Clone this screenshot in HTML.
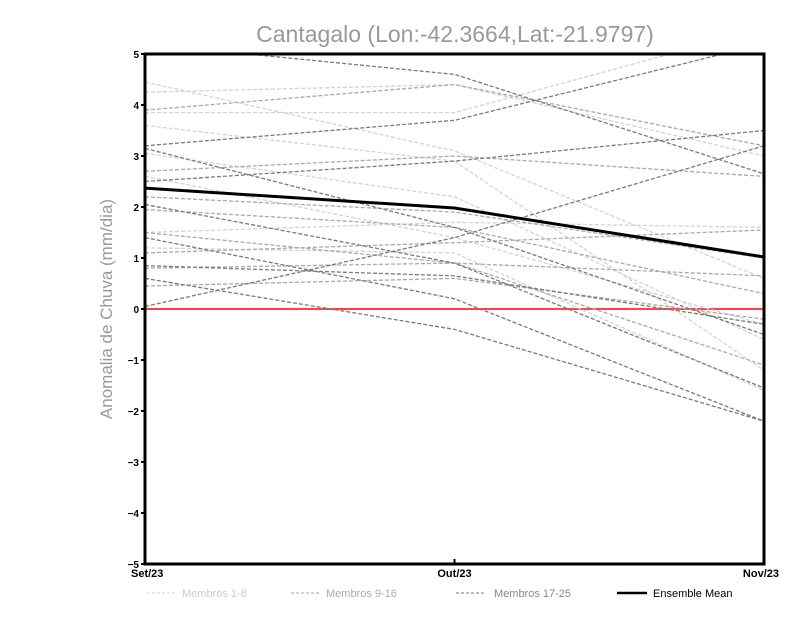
<!DOCTYPE html>
<html><head><meta charset="utf-8"><style>
body{margin:0;background:#fff;}
svg{display:block;font-family:"Liberation Sans",sans-serif;}
</style></head><body>
<svg id="chart" width="800" height="618">
<text x="455" y="42" text-anchor="middle" font-size="23" fill="#999">Cantagalo (Lon:-42.3664,Lat:-21.9797)</text>
<text transform="translate(112,309) rotate(-90)" text-anchor="middle" font-size="17" fill="#999">Anomalia de Chuva (mm/dia)</text>
<g id="marks"></g>
<g id="axes"></g>
<g id="legend">
<line x1="147" y1="593" x2="177" y2="593" stroke="#d4d4d4" stroke-dasharray="3,2"/>
<text x="182" y="597" font-size="11" fill="#ccc">Membros 1-8</text>
<line x1="291" y1="593" x2="320" y2="593" stroke="#aaa" stroke-dasharray="3,2"/>
<text x="326" y="597" font-size="11" fill="#aaa">Membros 9-16</text>
<line x1="456" y1="593" x2="486" y2="593" stroke="#777" stroke-dasharray="3,2"/>
<text x="494" y="597" font-size="11" fill="#888">Membros 17-25</text>
<line x1="617" y1="593" x2="647" y2="593" stroke="#000" stroke-width="2.5"/>
<text x="653" y="597" font-size="11" fill="#000">Ensemble Mean</text>
</g>
</svg>
<script>
const categories=["Set/23","Out/23","Nov/23"];
const yTicks=[5,4,3,2,1,0,-1,-2,-3,-4,-5];
const group1=[[4.45,3.1,0.6],[4.25,4.4,3.0],[3.85,3.85,5.5],[3.6,2.9,-1.2],[3.05,2.2,-0.6],[1.5,1.7,1.6],[1.2,1.1,-1.6],[2.6,1.4,-0.3]];
const group2=[[3.9,4.4,3.2],[2.7,3.0,2.6],[2.2,1.9,1.0],[1.95,1.6,0.3],[1.5,0.9,-1.1],[0.8,0.9,0.65],[0.45,0.6,-0.2],[1.1,1.3,1.55]];
const group3=[[5.2,4.6,2.65],[3.2,3.7,5.2],[2.5,2.9,3.5],[3.15,1.6,-0.5],[2.05,0.9,-1.55],[1.4,0.2,-2.2],[0.85,0.65,-0.3],[0.05,1.4,3.2],[0.6,-0.4,-2.2]];
const ensembleMean=[2.37,1.98,1.02];
const X0=145,X1=764,Y0=54,Y1=564,YMAX=5,YMIN=-5;
function xs(i){return X0+(X1-X0)*i/(categories.length-1);}
function ys(v){return Y0+(YMAX-v)*(Y1-Y0)/(YMAX-YMIN);}
const NS="http://www.w3.org/2000/svg";
const marks=document.getElementById('marks');
const axes=document.getElementById('axes');
const cp=document.createElementNS(NS,'clipPath');cp.id='clip';
const cr=document.createElementNS(NS,'rect');cr.setAttribute('x',X0);cr.setAttribute('y',Y0);cr.setAttribute('width',X1-X0);cr.setAttribute('height',Y1-Y0);
cp.appendChild(cr);marks.appendChild(cp);
marks.setAttribute('clip-path','url(#clip)');
function pts(a){return a.map((v,i)=>xs(i)+','+ys(v)).join(' ');}
const zero=document.createElementNS(NS,'line');
zero.setAttribute('x1',X0);zero.setAttribute('x2',X1);zero.setAttribute('y1',ys(0));zero.setAttribute('y2',ys(0));
zero.setAttribute('stroke','#f44');zero.setAttribute('stroke-width','2');


marks.appendChild(zero);
[[group1,'#d4d4d4','membros-1-8'],[group2,'#aaaaaa','membros-9-16'],[group3,'#7a7a7a','membros-17-25']].forEach(([g,c,n])=>{
 g.forEach((m,k)=>{
  const p=document.createElementNS(NS,'polyline');
  p.setAttribute('points',pts(m));p.setAttribute('fill','none');p.setAttribute('stroke',c);
  p.setAttribute('stroke-width','1.3');p.setAttribute('stroke-dasharray','4,2');
  
  
  marks.appendChild(p);
 });
});
const mean=document.createElementNS(NS,'polyline');
mean.setAttribute('points',pts(ensembleMean));mean.setAttribute('fill','none');mean.setAttribute('stroke','#000');mean.setAttribute('stroke-width','3');


marks.appendChild(mean);
const fr=document.createElementNS(NS,'rect');
fr.setAttribute('x',X0);fr.setAttribute('y',Y0);fr.setAttribute('width',X1-X0);fr.setAttribute('height',Y1-Y0);
fr.setAttribute('fill','none');fr.setAttribute('stroke','#000');fr.setAttribute('stroke-width','3');


axes.appendChild(fr);
yTicks.forEach(v=>{
 const t=document.createElementNS(NS,'line');
 t.setAttribute('x1',X0-4);t.setAttribute('x2',X0);t.setAttribute('y1',ys(v));t.setAttribute('y2',ys(v));t.setAttribute('stroke','#000');t.setAttribute('stroke-width','2');
 axes.appendChild(t);
 const l=document.createElementNS(NS,'text');
 l.setAttribute('x',X0-6);l.setAttribute('y',ys(v)+4);l.setAttribute('text-anchor','end');l.setAttribute('font-size','10');l.setAttribute('font-weight','bold');
 l.textContent=(v<0?'−'+(-v):v);
 
 
 axes.appendChild(l);
});
categories.forEach((c,i)=>{
 const t=document.createElementNS(NS,'line');
 t.setAttribute('x1',xs(i));t.setAttribute('x2',xs(i));t.setAttribute('y1',Y1);t.setAttribute('y2',Y1-5);t.setAttribute('stroke','#000');t.setAttribute('stroke-width','2');
 axes.appendChild(t);
 const l=document.createElementNS(NS,'text');
 l.setAttribute('x',i==0?X0-14:i==categories.length-1?X1+15:xs(i));l.setAttribute('y',Y1+13);
 l.setAttribute('text-anchor',i==0?'start':i==categories.length-1?'end':'middle');
 l.setAttribute('font-size','11');l.setAttribute('font-weight','bold');
 l.textContent=c;
 
 
 axes.appendChild(l);
});
</script>
</body></html>
